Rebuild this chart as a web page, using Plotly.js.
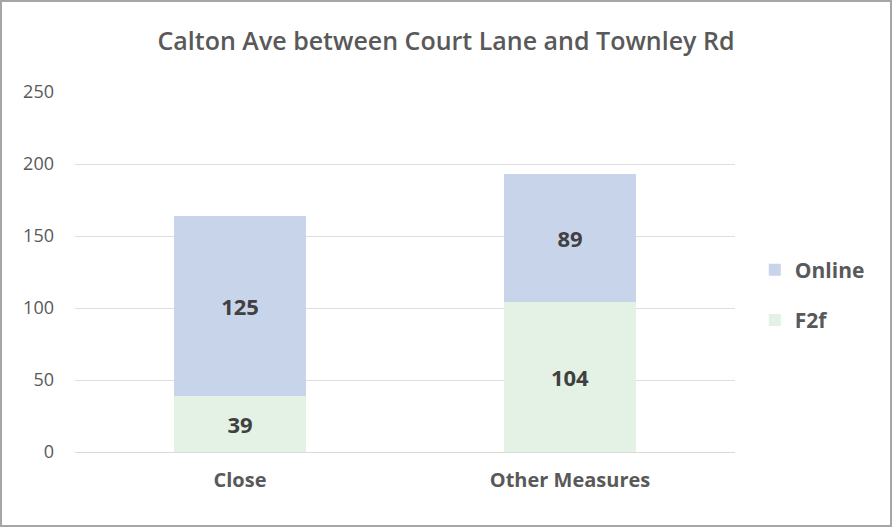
<!DOCTYPE html>
<html><head><meta charset="utf-8">
<script src="https://cdn.plot.ly/plotly-3.0.1.min.js"></script>
<style>
html,body{margin:0;padding:0;background:#fff;}
#wrap{width:892px;height:527px;box-sizing:border-box;border:2px solid #a6a6a6;}
#chart{width:888px;height:523px;}
</style></head>
<body><div id="wrap"><div id="chart"></div></div>
<script>
var categories = ["Close", "Other Measures"];
var f2f = [39, 104];
var online = [125, 89];
var yTicks = [0, 50, 100, 150, 200, 250];

var font = "'Open Sans', Lato, sans-serif";
var traces = [
  {type:'bar', name:'F2f', legendgroup:'g2', legendrank:2, x:categories, y:f2f, text:f2f.map(String),
   textposition:'inside', insidetextanchor:'middle', constraintext:'none',
   textfont:{family:font, size:22, color:'#404040', weight:700},
   marker:{color:'#e3f2e4'}, width:0.4, hoverinfo:'none'},
  {type:'bar', name:'Online', legendgroup:'g1', legendrank:1, x:categories, y:online, text:online.map(String),
   textposition:'inside', insidetextanchor:'middle', constraintext:'none',
   textfont:{family:font, size:22, color:'#404040', weight:700},
   marker:{color:'#c8d4ea'}, width:0.4, hoverinfo:'none'}
];
var layout = {
  width:888, height:523,
  margin:{l:73, r:155, t:90, b:73},
  barmode:'stack',
  paper_bgcolor:'#fff', plot_bgcolor:'#fff',
  title:{text:'Calton Ave between Court Lane and Townley Rd', x:0.5, xanchor:'center', y:0.925, yanchor:'middle',
    font:{family:font, size:25, color:'#595959', weight:600}},
  xaxis:{tickfont:{family:font, size:20, color:'#595959', weight:700}, showline:true, linecolor:'#d9d9d9', linewidth:1, ticks:'', ticklabelstandoff:10, fixedrange:true},
  yaxis:{range:[0,250], tickvals:yTicks, ticktext:yTicks.map(String), showgrid:true, gridcolor:'#dedede', gridwidth:1,
    zeroline:false, tickfont:{family:font, size:18, color:'#595959'}, ticklabelstandoff:20, fixedrange:true},
  legend:{x:1.03, xanchor:'left', y:0.436, yanchor:'middle', traceorder:'grouped', tracegroupgap:20,
    font:{family:font, size:21, color:'#595959', weight:700}},
  showlegend:true
};
Plotly.newPlot('chart', traces, layout, {displayModeBar:false, staticPlot:true});
</script></body></html>
